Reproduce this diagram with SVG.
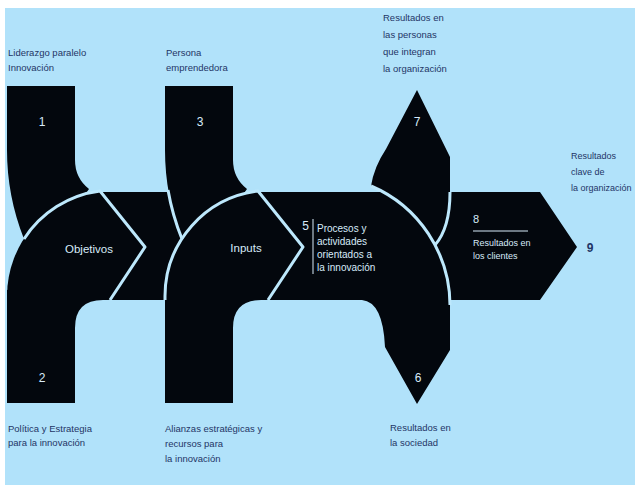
<svg xmlns="http://www.w3.org/2000/svg" width="635" height="485" viewBox="0 0 635 485">
  <style>
    .bg{fill:#b1e2fa}
    .blk{fill:#03070d}
    .sep{fill:none;stroke:#bde8fc;stroke-width:3;stroke-linejoin:round;stroke-linecap:butt}
    text{font-family:"Liberation Sans",Arial,sans-serif}
    .lbl{font-size:9.5px;fill:#1f3566}
    .in{font-size:10px;fill:#d8ebfa}
    .key{font-size:11.5px;fill:#d8ebfa;text-anchor:middle}
    .num{font-size:12px;fill:#d8ebfa;text-anchor:middle}
    .out{font-size:12px;font-weight:bold;fill:#1f3566;text-anchor:middle}
  </style>

  <!-- paper and sky-blue field -->
  <rect width="635" height="485" fill="#ffffff"/>
  <rect class="bg" x="5" y="8" width="630" height="477"/>

  <!-- band joining the two chevrons -->
  <g id="connectors">
    <rect class="blk" x="100" y="192" width="100" height="108"/>
  </g>

  <!-- 5: processes band -->
  <g id="node-5">
    <path class="blk" d="M252,192 L384,192 A130,130 0 0 1 449.3,292 L450,300 L252,300 Z"/>
    <text class="num" x="305.5" y="230">5</text>
    <line x1="313" y1="219" x2="313" y2="274" stroke="#d8ebfa" stroke-width="1"/>
    <text class="in">
      <tspan x="317" y="232">Procesos y</tspan>
      <tspan x="317" y="245">actividades</tspan>
      <tspan x="317" y="258">orientados a</tspan>
      <tspan x="317" y="271">la innovación</tspan>
    </text>
  </g>

  <!-- 6: results in society -->
  <g id="node-6">
    <path class="blk" d="M355,292 L449.3,292 L450,300 L450,350 L417,404 L385,347 Q383,302 362,300 L355,300 Z"/>
    <text class="num" x="418" y="382">6</text>
    <text class="lbl">
      <tspan x="390" y="431">Resultados en</tspan>
      <tspan x="390" y="446">la sociedad</tspan>
    </text>
  </g>

  <!-- 8: results in customers -->
  <g id="node-8">
    <path class="blk" d="M450,192 L540,192 L577,247 L540,300 L450,300 A130,130 0 0 0 435,245 Q450,228 450,192 Z"/>
    <text class="in" x="473" y="223" style="font-size:11px">8</text>
    <line x1="473" y1="231" x2="528" y2="231" stroke="#d8ebfa" stroke-width="1"/>
    <text class="in" style="font-size:9px">
      <tspan x="473" y="246">Resultados en</tspan>
      <tspan x="473" y="259">los clientes</tspan>
    </text>
  </g>

  <!-- 7: results in people -->
  <g id="node-7">
    <path class="blk" d="M417,90 L450,157 L450,192 Q450,228 435,245 A130,130 0 0 0 371,186 Q374,167 386,149 Z"/>
    <text class="num" x="417" y="126">7</text>
    <text class="lbl">
      <tspan x="383" y="21">Resultados en</tspan>
      <tspan x="383" y="38">las personas</tspan>
      <tspan x="383" y="55">que integran</tspan>
      <tspan x="383" y="72">la organización</tspan>
    </text>
  </g>

  <!-- 9: key results -->
  <g id="node-9">
    <text class="out" x="590" y="252">9</text>
    <text class="lbl" style="font-size:9px">
      <tspan x="571" y="159">Resultados</tspan>
      <tspan x="571" y="175">clave de</tspan>
      <tspan x="571" y="191">la organización</tspan>
    </text>
  </g>

  <!-- 1: leadership -->
  <g id="node-1">
    <path class="blk" d="M7,86 L75,86 L75,160 Q75,178 89,189 L60,230 L24,239 A241,241 0 0 1 7,150 Z"/>
    <text class="num" x="42" y="126">1</text>
    <text class="lbl">
      <tspan x="8" y="56">Liderazgo paralelo</tspan>
      <tspan x="8" y="71">Innovación</tspan>
    </text>
  </g>

  <!-- 2: policy and strategy -->
  <g id="node-2">
    <path class="blk" d="M7,290 L112,290 L110,300 L103,300 Q75,300 75,328 L75,403 L7,403 Z"/>
    <text class="num" x="42" y="382">2</text>
    <text class="lbl">
      <tspan x="8" y="432">Política y Estrategia</tspan>
      <tspan x="8" y="446">para la innovación</tspan>
    </text>
  </g>

  <!-- Objetivos chevron -->
  <g id="node-objetivos">
    <path class="blk" d="M100,191 L145,247 L110,300 L7,300 L7,296 A106,106 0 0 1 100,191 Z"/>
    <text class="key" x="89" y="253">Objetivos</text>
  </g>

  <!-- 3: entrepreneurial people -->
  <g id="node-3">
    <path class="blk" d="M165,86 L233,86 L233,160 Q233,178 247,189 L218,230 L182,239 A241,241 0 0 1 165,150 Z"/>
    <text class="num" x="200" y="126">3</text>
    <text class="lbl">
      <tspan x="166" y="56">Persona</tspan>
      <tspan x="166" y="71">emprendedora</tspan>
    </text>
  </g>

  <!-- 4: alliances and resources -->
  <g id="node-4">
    <path class="blk" d="M165,290 L270,290 L268,300 L261,300 Q233,300 233,328 L233,403 L165,403 Z"/>
    <text class="lbl">
      <tspan x="165" y="432">Alianzas estratégicas y</tspan>
      <tspan x="165" y="447">recursos para</tspan>
      <tspan x="165" y="462">la innovación</tspan>
    </text>
  </g>

  <!-- Inputs chevron -->
  <g id="node-inputs">
    <path class="blk" d="M258,191 L303,247 L268,300 L165,300 L165,296 A106,106 0 0 1 258,191 Z"/>
    <text class="key" x="246" y="252">Inputs</text>
  </g>

  <!-- light seams cut between touching shapes -->
  <g id="dividers">
    <path class="sep" d="M24,239 A106,106 0 0 1 100,191 L145,247 L110,300"/>
    <path class="sep" d="M165,300 L165,296 A106,106 0 0 1 258,191 L303,247 L268,300"/>
    <path class="sep" d="M168,190 A241,241 0 0 0 182,239"/>
    <path class="sep" d="M371,186 A130,130 0 0 1 450,305"/>
    <path class="sep" d="M450,192 Q450,228 435,245"/>
  </g>
</svg>
